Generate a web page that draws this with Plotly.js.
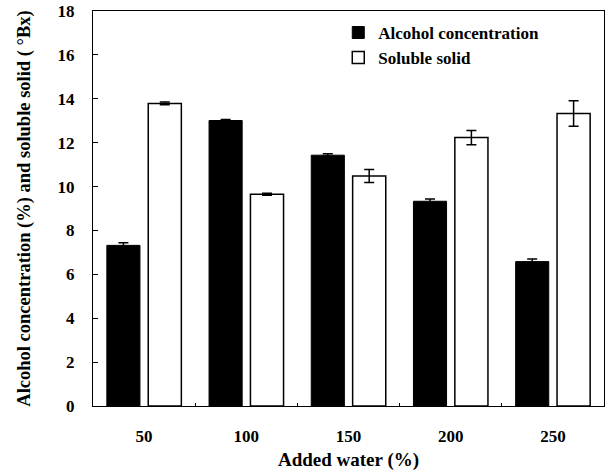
<!DOCTYPE html>
<html>
<head>
<meta charset="utf-8">
<script src="https://cdn.plot.ly/plotly-3.0.1.min.js"></script>
<style>html,body{margin:0;padding:0;background:#fff;}#chart{width:606px;height:474px;}</style>
</head>
<body>
<div id="chart"></div>
<script>
var categories = ['50', '100', '150', '200', '250'];
var alcohol = [7.32, 13.01, 11.43, 9.33, 6.58];
var alcoholErr = [0.12, 0.05, 0.06, 0.1, 0.12];
var soluble = [13.79, 9.65, 10.48, 12.23, 13.33];
var solubleErr = [0.06, 0.05, 0.3, 0.33, 0.58];
var yTicks = [0, 2, 4, 6, 8, 10, 12, 14, 16, 18];

var fontBase = {family: 'Liberation Serif, Times New Roman, serif', color: '#000', weight: 'bold'};

var traces = [
  {
    type: 'bar', name: 'Alcohol concentration', x: categories, y: alcohol,
    marker: {color: '#000', line: {color: '#000', width: 1}},
    error_y: {type: 'data', array: alcoholErr, visible: true, color: '#000', thickness: 1.5, width: 5}
  },
  {
    type: 'bar', name: 'Soluble solid', x: categories, y: soluble,
    marker: {color: '#fff', line: {color: '#000', width: 1.5}},
    error_y: {type: 'data', array: solubleErr, visible: true, color: '#000', thickness: 1.5, width: 5}
  }
];

var layout = {
  width: 606, height: 474,
  margin: {l: 93, r: 2, t: 11, b: 68},
  paper_bgcolor: '#fff', plot_bgcolor: '#fff',
  font: Object.assign({}, fontBase, {size: 17}),
  barmode: 'group', bargap: 0.19, bargroupgap: 0.2,
  showlegend: true,
  legend: {
    x: 0.48, y: 0.99, xanchor: 'left', yanchor: 'top',
    bgcolor: 'rgba(0,0,0,0)', borderwidth: 0,
    font: Object.assign({}, fontBase, {size: 17}),
    itemwidth: 30, tracegroupgap: 0
  },
  xaxis: {
    type: 'category', tickson: 'boundaries',
    ticks: 'inside', ticklen: 3, tickwidth: 1, tickcolor: '#000',
    showline: true, linecolor: '#000', linewidth: 1, mirror: true,
    showgrid: false, zeroline: false,
    ticklabelstandoff: 15,
    tickfont: Object.assign({}, fontBase, {size: 17}),
    title: {text: 'Added water (%)', font: Object.assign({}, fontBase, {size: 19}), standoff: 7}
  },
  yaxis: {
    range: [0, 18], tickvals: yTicks, ticktext: yTicks.map(String),
    ticks: 'inside', ticklen: 5, tickwidth: 1, tickcolor: '#000',
    showline: true, linecolor: '#000', linewidth: 1, mirror: true,
    showgrid: false, zeroline: false,
    ticklabelstandoff: 14,
    tickfont: Object.assign({}, fontBase, {size: 17}),
    title: {text: 'Alcohol concentration (%) and soluble solid ( °Bx)', font: Object.assign({}, fontBase, {size: 18.5}), standoff: 22}
  }
};

Plotly.newPlot('chart', traces, layout, {displayModeBar: false, staticPlot: true});
</script>
</body>
</html>
